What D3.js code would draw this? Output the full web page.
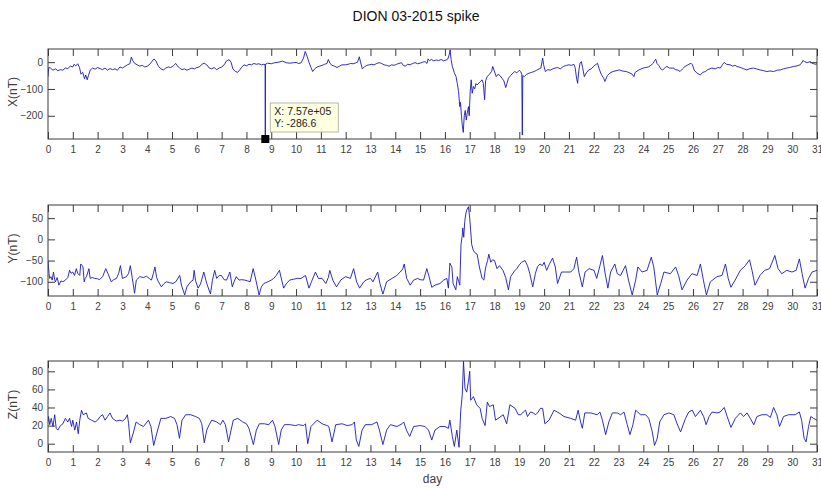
<!DOCTYPE html>
<html><head><meta charset="utf-8">
<script src="https://cdn.jsdelivr.net/npm/d3@7/dist/d3.min.js"></script>
<style>body{margin:0;background:#fff;} svg{display:block;} text{font-family:"Liberation Sans",Arial,sans-serif;}</style>
</head><body><svg id="c" width="821" height="488"></svg>
<script>
const title = "DION 03-2015 spike";
const xTicks = d3.range(0, 32);
const panelLabels = ["X(nT)", "Y(nT)", "Z(nT)"];
const xDomainDays = [0, 31];
const yDomains = [[-286.6, 49], [-133.5, 81], [-9.2, 91.4]];
const yTicks = [[-200, -100, 0], [-100, -50, 0, 50], [0, 20, 40, 60, 80]];
const tipX = "X: 7.57e+05", tipY = "Y: -286.6";
const tipPoint = [8.76, -286.6];

const seriesX = [[0.0,-54],[0.03,-20],[0.1,-22],[0.2,-30],[0.3,-25],[0.4,-32],[0.5,-28],[0.6,-30],[0.7,-22],[0.8,-24],[0.9,-15],[1.0,-18],[1.05,-8],[1.12,-14],[1.2,-6],[1.27,-20],[1.33,-45],[1.4,-38],[1.47,-62],[1.52,-48],[1.58,-66],[1.63,-50],[1.7,-30],[1.8,-22],[1.9,-26],[2.0,-20],[2.1,-24],[2.2,-28],[2.3,-22],[2.4,-30],[2.5,-24],[2.6,-28],[2.7,-25],[2.8,-30],[2.9,-18],[3.0,-22],[3.1,-16],[3.2,-10],[3.3,-6],[3.36,19],[3.42,5],[3.5,-5],[3.6,-10],[3.7,-15],[3.8,-12],[3.9,-18],[4.0,-15],[4.1,-8],[4.2,4],[4.27,12],[4.35,4],[4.45,-15],[4.55,-25],[4.65,-29],[4.75,-22],[4.85,-18],[4.95,-20],[5.05,-14],[5.15,-5],[5.2,-12],[5.3,-22],[5.4,-28],[5.5,-25],[5.6,-30],[5.7,-26],[5.8,-22],[5.9,-25],[6.0,-20],[6.1,-18],[6.2,-8],[6.3,-4],[6.4,-10],[6.5,-22],[6.6,-25],[6.7,-20],[6.8,-28],[6.9,-22],[7.0,-18],[7.1,-10],[7.2,5],[7.3,9],[7.38,0],[7.45,-25],[7.55,-35],[7.65,-38],[7.72,-30],[7.8,-20],[7.9,-10],[8.0,-14],[8.1,-8],[8.2,-10],[8.3,-5],[8.4,-8],[8.5,-6],[8.6,-10],[8.7,-8],[8.755,-9],[8.76,-286.6],[8.765,-8],[8.85,-4],[9.0,-6],[9.1,-3],[9.3,0],[9.45,4],[9.6,-2],[9.75,-4],[9.9,-2],[10.0,-1],[10.1,-5],[10.2,-3],[10.3,15],[10.37,40],[10.45,20],[10.52,0],[10.6,-20],[10.67,-35],[10.75,-25],[10.85,-18],[10.95,-15],[11.05,-12],[11.15,-8],[11.25,-5],[11.3,10],[11.37,-5],[11.45,-12],[11.55,-15],[11.65,-20],[11.75,-15],[11.85,-10],[12.0,-10],[12.1,-8],[12.2,-5],[12.3,-6],[12.4,-3],[12.48,0],[12.55,20],[12.6,0],[12.67,-25],[12.75,-18],[12.85,-12],[12.95,-10],[13.05,-8],[13.15,-10],[13.25,-5],[13.35,-2],[13.45,-5],[13.55,-10],[13.65,-12],[13.75,-15],[13.85,-10],[13.95,-12],[14.05,-8],[14.15,-5],[14.25,-2],[14.32,-12],[14.4,-15],[14.5,-8],[14.6,-10],[14.7,-5],[14.8,-2],[14.9,-6],[15.0,-4],[15.1,0],[15.2,2],[15.28,-5],[15.32,12],[15.38,5],[15.45,10],[15.55,5],[15.65,8],[15.75,6],[15.85,10],[15.95,5],[16.05,8],[16.12,12],[16.18,30],[16.21,46],[16.25,10],[16.3,-16],[16.38,-40],[16.45,-54],[16.5,-80],[16.55,-110],[16.6,-166],[16.63,-150],[16.67,-204],[16.7,-235],[16.74,-262],[16.78,-200],[16.82,-180],[16.86,-216],[16.9,-190],[16.95,-166],[16.98,-200],[17.02,-110],[17.06,-66],[17.1,-116],[17.15,-91],[17.2,-100],[17.25,-80],[17.3,-85],[17.4,-75],[17.5,-66],[17.55,-80],[17.6,-140],[17.64,-70],[17.7,-54],[17.8,-45],[17.88,-35],[17.93,-16],[17.98,-30],[18.07,-54],[18.15,-45],[18.22,-50],[18.3,-60],[18.38,-70],[18.45,-95],[18.5,-80],[18.56,-60],[18.65,-50],[18.75,-40],[18.82,-35],[18.9,-40],[19.0,-30],[19.05,-35],[19.1,-45],[19.12,-272],[19.14,-50],[19.2,-54],[19.3,-45],[19.4,-41],[19.5,-38],[19.6,-35],[19.7,-30],[19.8,-25],[19.87,-22],[19.94,15],[19.98,-10],[20.05,-35],[20.15,-28],[20.25,-30],[20.35,-25],[20.45,-22],[20.55,-20],[20.65,-25],[20.78,-16],[20.9,-12],[21.0,-10],[21.1,-12],[21.2,-8],[21.25,-20],[21.3,-55],[21.35,-79],[21.4,-30],[21.45,-4],[21.5,2],[21.55,-20],[21.62,-54],[21.7,-40],[21.8,-29],[21.9,-25],[22.0,-15],[22.1,-8],[22.15,-4],[22.22,-25],[22.3,-45],[22.4,-60],[22.45,-72],[22.55,-50],[22.65,-41],[22.77,-35],[22.9,-32],[23.04,-29],[23.15,-33],[23.31,-35],[23.45,-40],[23.55,-45],[23.62,-54],[23.67,-38],[23.8,-30],[23.9,-26],[24.0,-22],[24.1,-20],[24.2,-18],[24.3,-12],[24.4,-4],[24.45,5],[24.5,11],[24.55,-5],[24.62,-12],[24.7,-25],[24.78,-29],[24.88,-20],[24.95,-16],[25.05,-22],[25.2,-22],[25.3,-28],[25.4,-30],[25.48,-35],[25.58,-25],[25.68,-16],[25.8,-10],[25.92,-4],[25.98,-10],[26.05,-30],[26.15,-40],[26.29,-48],[26.4,-38],[26.5,-35],[26.6,-28],[26.76,-22],[26.9,-25],[27.0,-20],[27.1,-22],[27.2,-8],[27.26,-1],[27.35,-8],[27.5,-10],[27.6,-15],[27.7,-12],[27.77,-16],[27.85,-18],[27.97,-22],[28.05,-25],[28.17,-29],[28.3,-24],[28.44,-22],[28.55,-25],[28.71,-29],[28.85,-32],[28.98,-35],[29.1,-33],[29.25,-35],[29.4,-30],[29.52,-29],[29.65,-25],[29.78,-22],[29.9,-20],[30.05,-16],[30.2,-14],[30.32,-10],[30.4,0],[30.43,6],[30.5,2],[30.6,-2],[30.73,2],[30.8,-4],[30.87,-6],[30.95,-8],[31.0,-6]];

const seriesY = [[0.0,-50],[0.04,-80],[0.07,-92],[0.12,-88],[0.17,-96],[0.22,-77],[0.27,-95],[0.3,-100],[0.37,-90],[0.44,-108],[0.52,-98],[0.6,-100],[0.7,-96],[0.8,-90],[0.87,-73],[0.93,-80],[1.0,-77],[1.07,-85],[1.14,-69],[1.2,-80],[1.28,-85],[1.32,-58],[1.38,-62],[1.41,-65],[1.46,-100],[1.5,-92],[1.55,-88],[1.65,-69],[1.7,-92],[1.78,-90],[1.88,-92],[2.0,-93],[2.08,-95],[2.2,-88],[2.33,-69],[2.42,-81],[2.55,-100],[2.65,-95],[2.76,-92],[2.85,-80],[2.92,-62],[3.0,-92],[3.16,-88],[3.25,-80],[3.32,-62],[3.4,-92],[3.49,-127],[3.56,-96],[3.7,-88],[3.85,-90],[3.97,-87],[4.08,-92],[4.17,-96],[4.25,-80],[4.31,-65],[4.38,-90],[4.45,-100],[4.57,-112],[4.68,-104],[4.77,-100],[4.9,-102],[5.04,-104],[5.15,-100],[5.31,-85],[5.38,-108],[5.51,-131],[5.6,-112],[5.75,-100],[5.85,-96],[5.89,-73],[5.95,-98],[6.05,-115],[6.15,-105],[6.28,-77],[6.4,-104],[6.55,-129],[6.63,-96],[6.72,-73],[6.8,-92],[6.9,-85],[6.99,-85],[7.1,-95],[7.2,-96],[7.33,-77],[7.43,-112],[7.5,-100],[7.59,-88],[7.7,-96],[7.8,-95],[7.93,-96],[8.05,-98],[8.15,-100],[8.27,-69],[8.38,-96],[8.51,-131],[8.6,-112],[8.7,-104],[8.87,-100],[9.0,-96],[9.1,-92],[9.2,-85],[9.33,-73],[9.42,-96],[9.5,-115],[9.6,-105],[9.74,-96],[9.9,-94],[10.05,-92],[10.2,-92],[10.38,-85],[10.52,-115],[10.62,-100],[10.78,-77],[10.9,-92],[11.05,-92],[11.2,-104],[11.3,-90],[11.36,-73],[11.48,-96],[11.63,-112],[11.8,-96],[11.99,-88],[12.1,-90],[12.19,-92],[12.32,-69],[12.44,-100],[12.56,-115],[12.73,-100],[12.85,-95],[13.0,-92],[13.1,-100],[13.29,-77],[13.38,-104],[13.5,-129],[13.65,-100],[13.87,-92],[14.06,-85],[14.2,-77],[14.3,-70],[14.36,-58],[14.46,-92],[14.6,-108],[14.74,-96],[14.9,-92],[15.0,-95],[15.14,-96],[15.27,-69],[15.35,-85],[15.47,-113],[15.6,-108],[15.8,-104],[15.95,-96],[16.08,-92],[16.14,-115],[16.2,-56],[16.25,-62],[16.28,-65],[16.33,-104],[16.44,-119],[16.5,-88],[16.56,-100],[16.6,-108],[16.65,-12],[16.7,10],[16.72,27],[16.76,5],[16.8,42],[16.84,60],[16.88,69],[16.95,77],[17.0,50],[17.04,20],[17.08,-12],[17.14,-25],[17.2,-31],[17.3,-35],[17.39,-65],[17.45,-80],[17.5,-92],[17.57,-96],[17.62,-75],[17.66,-62],[17.72,-50],[17.77,-35],[17.85,-54],[17.92,-48],[18.0,-50],[18.1,-69],[18.2,-62],[18.34,-73],[18.45,-90],[18.56,-119],[18.65,-88],[18.8,-75],[18.9,-69],[19.0,-60],[19.09,-54],[19.23,-50],[19.33,-62],[19.42,-80],[19.54,-112],[19.65,-80],[19.73,-65],[19.83,-58],[19.93,-62],[20.0,-54],[20.1,-73],[20.2,-60],[20.34,-44],[20.45,-65],[20.54,-104],[20.7,-77],[20.85,-77],[21.07,-77],[21.2,-69],[21.31,-42],[21.4,-77],[21.54,-112],[21.65,-77],[21.81,-69],[22.01,-73],[22.12,-92],[22.25,-62],[22.35,-38],[22.45,-77],[22.57,-115],[22.68,-77],[22.85,-58],[22.95,-81],[23.08,-85],[23.28,-62],[23.4,-96],[23.55,-131],[23.69,-96],[23.78,-65],[23.95,-77],[24.15,-73],[24.32,-42],[24.42,-65],[24.56,-131],[24.7,-104],[24.83,-77],[25.09,-81],[25.3,-65],[25.42,-85],[25.56,-119],[25.76,-96],[25.96,-81],[26.17,-85],[26.3,-58],[26.42,-96],[26.54,-131],[26.7,-100],[26.97,-88],[27.17,-85],[27.31,-58],[27.42,-92],[27.53,-113],[27.7,-96],[27.91,-73],[28.11,-62],[28.28,-48],[28.38,-73],[28.5,-108],[28.7,-85],[28.89,-73],[29.09,-69],[29.3,-38],[29.43,-69],[29.58,-81],[29.78,-73],[29.99,-77],[30.16,-73],[30.29,-46],[30.4,-81],[30.52,-115],[30.66,-92],[30.8,-77],[31.0,-73]];

const seriesZ = [[0.0,24],[0.02,30],[0.07,21],[0.13,28],[0.2,19],[0.27,32],[0.33,17],[0.4,15],[0.5,20],[0.6,22],[0.7,28],[0.8,24],[0.87,28],[0.95,19],[1.0,26],[1.08,15],[1.15,24],[1.22,11],[1.28,26],[1.35,37],[1.42,32],[1.55,34],[1.62,28],[1.75,26],[1.9,24],[2.0,26],[2.1,30],[2.2,32],[2.3,26],[2.4,30],[2.5,34],[2.6,28],[2.75,25],[2.9,26],[3.0,25],[3.1,27],[3.2,32],[3.25,22],[3.32,1],[3.45,13],[3.55,24],[3.7,21],[3.85,19],[4.05,26],[4.15,19],[4.26,-2],[4.4,13],[4.55,28],[4.75,28],[4.95,30],[5.1,28],[5.2,21],[5.3,6],[5.4,26],[5.55,32],[5.75,32],[5.95,30],[6.1,28],[6.2,22],[6.3,1],[6.4,15],[6.5,21],[6.6,26],[6.8,24],[6.95,21],[7.05,26],[7.15,21],[7.28,2],[7.38,15],[7.47,26],[7.65,28],[7.85,24],[8.0,22],[8.1,17],[8.28,-1],[8.4,15],[8.52,22],[8.72,22],[8.9,21],[9.05,26],[9.15,19],[9.3,-1],[9.4,15],[9.53,21],[9.75,21],[9.98,20],[10.1,21],[10.31,20],[10.38,22],[10.47,0],[10.6,19],[10.85,26],[11.05,22],[11.25,20],[11.32,19],[11.45,2],[11.6,21],[11.86,22],[12.06,20],[12.26,21],[12.35,24],[12.43,4],[12.53,-3],[12.66,15],[12.79,21],[13.05,21],[13.26,24],[13.36,15],[13.5,-1],[13.65,15],[13.8,21],[14.07,19],[14.27,22],[14.34,24],[14.45,15],[14.58,8],[14.74,19],[15.0,20],[15.2,19],[15.34,15],[15.47,4],[15.6,15],[15.8,19],[16.0,19],[16.14,17],[16.2,26],[16.3,8],[16.38,-3],[16.48,15],[16.57,-4],[16.64,37],[16.7,54],[16.75,91],[16.81,61],[16.88,57],[16.95,69],[17.0,80],[17.04,48],[17.15,52],[17.28,43],[17.42,39],[17.5,28],[17.62,20],[17.71,46],[17.8,41],[17.95,43],[18.04,26],[18.15,28],[18.35,32],[18.49,22],[18.62,43],[18.83,39],[18.96,32],[19.06,32],[19.16,35],[19.25,37],[19.33,30],[19.45,35],[19.56,34],[19.66,32],[19.76,35],[19.85,39],[19.94,39],[20.03,22],[20.2,26],[20.4,37],[20.6,34],[20.8,30],[21.07,28],[21.27,26],[21.37,37],[21.47,24],[21.54,17],[21.64,34],[21.88,34],[22.14,32],[22.25,35],[22.35,26],[22.48,10],[22.61,24],[22.75,34],[22.95,34],[23.08,32],[23.22,35],[23.35,21],[23.46,10],[23.58,21],[23.69,37],[23.89,32],[24.09,32],[24.22,28],[24.36,13],[24.45,-2],[24.56,6],[24.66,24],[24.83,32],[25.03,34],[25.23,32],[25.36,22],[25.5,13],[25.7,28],[25.83,35],[25.97,37],[26.1,30],[26.3,37],[26.43,30],[26.53,21],[26.65,30],[26.77,35],[26.97,34],[27.1,35],[27.26,40],[27.38,30],[27.53,18],[27.71,28],[27.91,34],[28.04,30],[28.18,34],[28.31,28],[28.45,21],[28.58,30],[28.78,32],[28.98,32],[29.12,29],[29.25,40],[29.38,32],[29.49,19],[29.65,30],[29.85,32],[30.12,32],[30.29,35],[30.38,26],[30.48,6],[30.56,2],[30.66,19],[30.75,30],[30.86,28],[31.0,26]];

const allSeries = [seriesX, seriesY, seriesZ];

const svg = d3.select("#c");
const L = 48, R = 817;
const panels = [{top: 49, bottom: 139}, {top: 205, bottom: 296}, {top: 361, bottom: 452}];
const axisColor = "#3a3a3a";
const textColor = "#404040";
const tickLen = 7;

const x = d3.scaleLinear().domain(xDomainDays).range([L, R]);

svg.append("text").attr("x", 416).attr("y", 21).attr("text-anchor", "middle")
  .attr("font-size", 14).attr("fill", "#111").text(title);

panels.forEach((p, i) => {
  const y = d3.scaleLinear().domain(yDomains[i]).range([p.bottom, p.top]);
  const g = svg.append("g");
  g.append("clipPath").attr("id", "clip" + i).append("rect")
    .attr("x", L).attr("y", p.top).attr("width", R - L).attr("height", p.bottom - p.top);
  const line = d3.line().x(d => x(d[0])).y(d => y(d[1]));
  g.append("path").datum(allSeries[i]).attr("d", line)
    .attr("fill", "none").attr("stroke", "#1818b8").attr("stroke-width", 0.9)
    .attr("stroke-linejoin", "round")
    .attr("clip-path", `url(#clip${i})`);

  const axB = d3.axisBottom(x).tickValues(xTicks).tickSize(-tickLen).tickPadding(7).tickFormat(d3.format("d"));
  const axT = d3.axisTop(x).tickValues(xTicks).tickSize(-tickLen).tickFormat("");
  const axLft = d3.axisLeft(y).tickValues(yTicks[i]).tickSize(-tickLen).tickPadding(5);
  const axRgt = d3.axisRight(y).tickValues(yTicks[i]).tickSize(-tickLen).tickFormat("");
  const gb = g.append("g").attr("transform", `translate(0,${p.bottom})`).call(axB);
  const gt = g.append("g").attr("transform", `translate(0,${p.top})`).call(axT);
  const gl = g.append("g").attr("transform", `translate(${L},0)`).call(axLft);
  const gr = g.append("g").attr("transform", `translate(${R},0)`).call(axRgt);
  [gb, gt, gl, gr].forEach(a => {
    a.select(".domain").remove();
    a.selectAll(".tick line").attr("stroke", axisColor);
    a.selectAll(".tick text").attr("fill", textColor).attr("font-size", 10)
      .attr("font-family", "Liberation Sans, Arial, sans-serif");
  });
  g.append("rect").attr("x", L).attr("y", p.top).attr("width", R - L).attr("height", p.bottom - p.top)
    .attr("fill", "none").attr("stroke", axisColor).attr("stroke-width", 1);

  g.append("text").attr("transform", `translate(13,${(p.top + p.bottom) / 2 - 2}) rotate(-90)`)
    .attr("text-anchor", "middle").attr("dy", "0.35em").attr("font-size", 12).attr("fill", textColor).text(panelLabels[i]);

  if (i === 0) {
    const tg = svg.append("g");
    tg.append("rect").attr("x", x(tipPoint[0]) - 4).attr("y", y(tipPoint[1]) - 4)
      .attr("width", 8).attr("height", 8).attr("fill", "#000");
    const bx = x(tipPoint[0]) + 5, by = y(tipPoint[1]) - 36;
    tg.append("rect").attr("x", bx).attr("y", by).attr("width", 68).attr("height", 29)
      .attr("fill", "#ffffe1").attr("stroke", "#b8b8a8").attr("stroke-width", 1);
    tg.append("text").attr("x", bx + 4).attr("y", by + 12).attr("font-size", 10.5).attr("fill", "#222").text(tipX);
    tg.append("text").attr("x", bx + 4).attr("y", by + 24).attr("font-size", 10.5).attr("fill", "#222").text(tipY);
  }
});

svg.append("text").attr("x", (L + R) / 2).attr("y", 483).attr("text-anchor", "middle")
  .attr("font-size", 12).attr("fill", textColor).text("day");
</script></body></html>
